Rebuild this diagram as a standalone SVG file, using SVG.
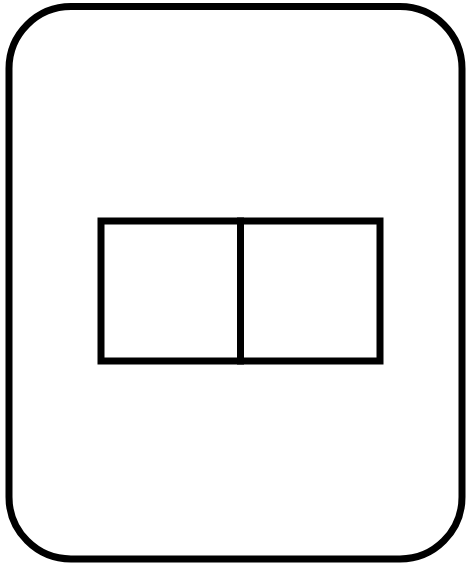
<svg xmlns="http://www.w3.org/2000/svg" width="468" height="567" viewBox="0 0 468 567">
<style>
.s{fill:none;stroke:#000;stroke-width:7}
</style>
<rect width="468" height="567" fill="#fff"/>
<g id="outer"><rect class="s" x="9" y="6.5" width="453" height="552.5" rx="62" ry="62"/></g>
<g id="left-box"><rect class="s" x="101" y="221" width="139.5" height="140"/></g>
<g id="right-box"><rect class="s" x="240.5" y="221" width="139.5" height="140"/></g>
<g id="connectors"></g>
</svg>
